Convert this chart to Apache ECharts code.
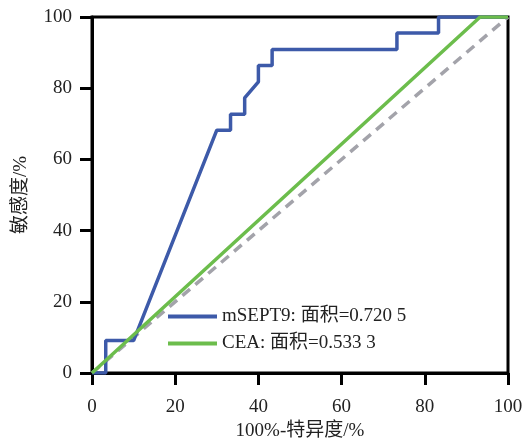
<!DOCTYPE html>
<html>
<head>
<meta charset="utf-8">
<script src="https://cdn.jsdelivr.net/npm/echarts@6/dist/echarts.min.js"></script>
<style>
  html, body { margin: 0; padding: 0; background: #fff; }
  #chart { width: 522px; height: 441px; }
</style>
</head>
<body>
<div id="chart"></div>
<script>
// ROC 曲线数据 (100%-特异度, 敏感度)
const xTicks = [0, 20, 40, 60, 80, 100]
const septX = [0, 3.3, 3.3, 10, 30, 33.3, 33.3, 36.7, 36.7, 40, 40, 43.3, 43.3, 73.3, 73.3, 83.3, 83.3, 100]
const septY = [0, 0, 9.1, 9.1, 68.2, 68.2, 72.7, 72.7, 77.3, 81.8, 86.4, 86.4, 90.9, 90.9, 95.5, 95.5, 100, 100]
const ceaX = [0, 93.3, 100]
const ceaY = [0, 100, 100]
const refX = [0, 100]
const refY = [0, 100]
const seriesNames = ['mSEPT9: 面积=0.720 5', 'CEA: 面积=0.533 3']

const zip = (xs, ys) => xs.map((x, i) => [x, ys[i]])
const font = '"Liberation Serif", "Noto Sans CJK SC", serif'

const chart = echarts.init(document.getElementById('chart'))
chart.setOption({
  animation: false,
  grid: {
    left: 92,
    right: 14,
    top: 17,
    bottom: 68,
    outerBoundsMode: 'none',
    containLabel: false,
    show: true,
    borderColor: '#000',
    borderWidth: 3
  },
  legend: {
    orient: 'vertical',
    left: 163,
    top: 302,
    icon: 'rect',
    itemWidth: 49,
    itemHeight: 4,
    itemGap: 8,
    data: seriesNames,
    textStyle: { fontFamily: font, fontSize: 19, color: '#222' }
  },
  xAxis: {
    type: 'value',
    min: xTicks[0],
    max: xTicks[xTicks.length - 1],
    interval: 20,
    name: '100%-特异度/%',
    nameLocation: 'middle',
    nameGap: 42,
    nameTextStyle: { fontFamily: font, fontSize: 19, color: '#222' },
    axisLine: { lineStyle: { color: '#000', width: 3 } },
    axisTick: { show: true, length: 12, lineStyle: { color: '#000', width: 3 } },
    axisLabel: { fontFamily: font, fontSize: 19, color: '#222', margin: 25 },
    splitLine: { show: false }
  },
  yAxis: {
    type: 'value',
    min: 0,
    max: 100,
    interval: 20,
    name: '敏感度/%',
    nameLocation: 'middle',
    nameGap: 61,
    nameTextStyle: { fontFamily: font, fontSize: 19, color: '#222' },
    axisLine: { lineStyle: { color: '#000', width: 3 } },
    axisTick: { show: true, length: 12, lineStyle: { color: '#000', width: 3 } },
    axisLabel: { fontFamily: font, fontSize: 19, color: '#222', margin: 20 },
    splitLine: { show: false }
  },
  series: [
    {
      name: 'ref',
      type: 'line',
      symbol: 'none',
      data: zip(refX, refY),
      lineStyle: { color: '#a3a3aa', width: 3.5, type: [10, 7] }
    },
    {
      name: seriesNames[0],
      type: 'line',
      symbol: 'none',
      data: zip(septX, septY),
      lineStyle: { color: '#3d5aa9', width: 3.5 },
      itemStyle: { color: '#3d5aa9' }
    },
    {
      name: seriesNames[1],
      type: 'line',
      symbol: 'none',
      data: zip(ceaX, ceaY),
      lineStyle: { color: '#6cbd4c', width: 3.5 },
      itemStyle: { color: '#6cbd4c' }
    }
  ]
})
</script>
</body>
</html>
